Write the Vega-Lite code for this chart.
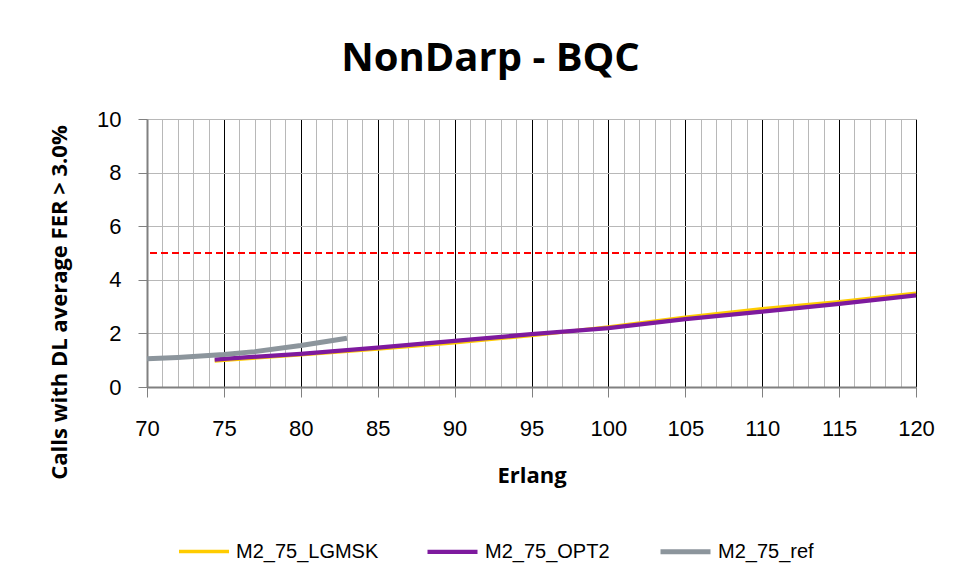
{
  "$schema": "https://vega.github.io/schema/vega-lite/v6.json",
  "width": 769,
  "height": 268,
  "autosize": {"type": "none"},
  "padding": {"left": 147, "top": 119, "right": 43, "bottom": 191},
  "background": "white",
  "title": {
    "text": "NonDarp - BQC",
    "font": "Open Sans",
    "fontSize": 40,
    "fontWeight": "bold",
    "color": "#000000",
    "anchor": "middle",
    "dx": -41,
    "offset": 29
  },
  "config": {
    "view": {"stroke": null},
    "axis": {
      "labelFont": "Liberation Sans",
      "labelColor": "#000000",
      "titleFont": "Open Sans",
      "titleFontWeight": "bold",
      "titleColor": "#000000",
      "domainColor": "#808080",
      "domainWidth": 2
    }
  },
  "datasets": {
    "series": [
      {"series": "M2_75_LGMSK", "erlang": 74.4, "calls": 0.97},
      {"series": "M2_75_LGMSK", "erlang": 75, "calls": 1.0},
      {"series": "M2_75_LGMSK", "erlang": 80, "calls": 1.2},
      {"series": "M2_75_LGMSK", "erlang": 85, "calls": 1.42},
      {"series": "M2_75_LGMSK", "erlang": 90, "calls": 1.65},
      {"series": "M2_75_LGMSK", "erlang": 95, "calls": 1.92},
      {"series": "M2_75_LGMSK", "erlang": 100, "calls": 2.24},
      {"series": "M2_75_LGMSK", "erlang": 105, "calls": 2.6},
      {"series": "M2_75_LGMSK", "erlang": 110, "calls": 2.92},
      {"series": "M2_75_LGMSK", "erlang": 115, "calls": 3.18},
      {"series": "M2_75_LGMSK", "erlang": 120, "calls": 3.5},
      {"series": "M2_75_OPT2", "erlang": 74.4, "calls": 1.02},
      {"series": "M2_75_OPT2", "erlang": 75, "calls": 1.05},
      {"series": "M2_75_OPT2", "erlang": 80, "calls": 1.24},
      {"series": "M2_75_OPT2", "erlang": 85, "calls": 1.47},
      {"series": "M2_75_OPT2", "erlang": 90, "calls": 1.72},
      {"series": "M2_75_OPT2", "erlang": 95, "calls": 1.97},
      {"series": "M2_75_OPT2", "erlang": 100, "calls": 2.2},
      {"series": "M2_75_OPT2", "erlang": 105, "calls": 2.53},
      {"series": "M2_75_OPT2", "erlang": 110, "calls": 2.81},
      {"series": "M2_75_OPT2", "erlang": 115, "calls": 3.1},
      {"series": "M2_75_OPT2", "erlang": 120, "calls": 3.42},
      {"series": "M2_75_ref", "erlang": 70, "calls": 1.05},
      {"series": "M2_75_ref", "erlang": 72, "calls": 1.1},
      {"series": "M2_75_ref", "erlang": 75, "calls": 1.21},
      {"series": "M2_75_ref", "erlang": 77, "calls": 1.32},
      {"series": "M2_75_ref", "erlang": 80, "calls": 1.55},
      {"series": "M2_75_ref", "erlang": 83, "calls": 1.82}
    ],
    "threshold": [{"limit": 5}]
  },
  "layer": [
    {
      "data": {"name": "series"},
      "mark": {"type": "line", "strokeCap": "butt", "strokeJoin": "round"},
      "encoding": {
        "x": {
          "field": "erlang",
          "type": "quantitative",
          "scale": {"domain": [70, 120], "nice": false, "zero": false},
          "axis": {
            "title": "Erlang",
            "titleFontSize": 22,
            "titlePadding": 26,
            "values": [70,71,72,73,74,75,76,77,78,79,80,81,82,83,84,85,86,87,88,89,90,91,92,93,94,95,96,97,98,99,100,101,102,103,104,105,106,107,108,109,110,111,112,113,114,115,116,117,118,119,120],
            "grid": true,
            "gridColor": {"condition": {"test": "datum.value % 5 === 0 && datum.value !== 70", "value": "#000000"}, "value": "#b8b8b8"},
            "gridWidth": 1,
            "tickColor": {"condition": {"test": "datum.value % 5 === 0", "value": "#808080"}, "value": "transparent"},
            "tickSize": 10,
            "tickWidth": 1,
            "labelExpr": "datum.value % 5 === 0 ? datum.label : ''",
            "labelFontSize": 22,
            "labelPadding": 21,
            "labelOverlap": false,
            "labelFlush": false,
            "labelBound": false
          }
        },
        "y": {
          "field": "calls",
          "type": "quantitative",
          "scale": {"domain": [0, 10], "nice": false},
          "axis": {
            "title": "Calls with DL average FER > 3.0%",
            "titleFontSize": 22,
            "titleX": -88,
            "titleY": 183,
            "titleAngle": 270,
            "titleAlign": "center",
            "titleBaseline": "middle",
            "values": [0, 2, 4, 6, 8, 10],
            "grid": true,
            "gridColor": "#b8b8b8",
            "gridWidth": 1,
            "tickColor": "#808080",
            "tickSize": 9,
            "labelFontSize": 22,
            "labelPadding": 17
          }
        },
        "color": {
          "field": "series",
          "type": "nominal",
          "scale": {
            "domain": ["M2_75_LGMSK", "M2_75_OPT2", "M2_75_ref"],
            "range": ["#FFCC00", "#7E1A9E", "#8C959C"]
          },
          "legend": {
            "orient": "none",
            "direction": "horizontal",
            "legendX": 30,
            "legendY": 405,
            "title": null,
            "symbolType": "stroke",
            "symbolSize": 2500,
            "symbolStrokeWidth": 3,
            "labelFont": "Liberation Sans",
            "labelFontSize": 20,
            "labelColor": "#000000",
            "labelOffset": 5,
            "columnPadding": 40
          }
        },
        "strokeWidth": {
          "field": "series",
          "type": "nominal",
          "scale": {
            "domain": ["M2_75_LGMSK", "M2_75_OPT2", "M2_75_ref"],
            "range": [3.5, 5, 4]
          },
          "legend": null
        }
      }
    },
    {
      "data": {"name": "threshold"},
      "mark": {"type": "rule", "color": "#FF0000", "strokeDash": [7, 4], "strokeWidth": 2},
      "encoding": {
        "y": {"field": "limit", "type": "quantitative"}
      }
    }
  ]
}
